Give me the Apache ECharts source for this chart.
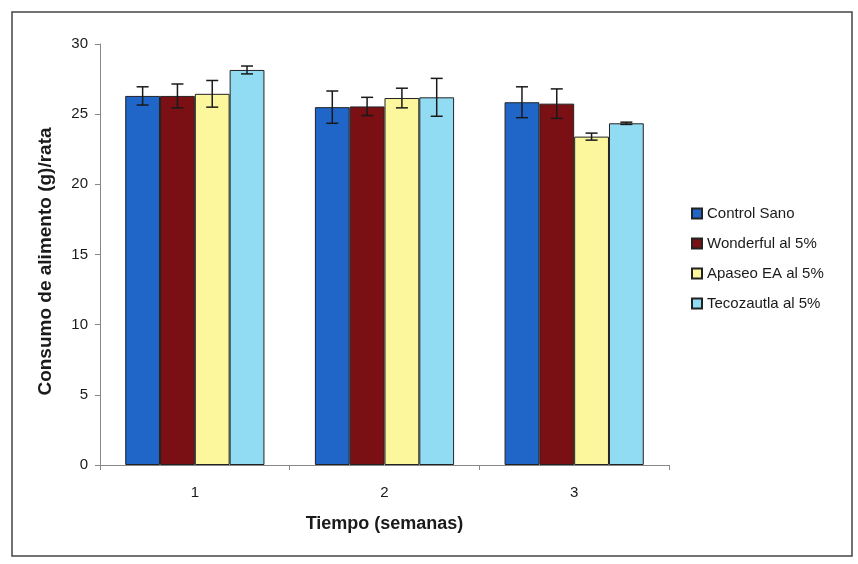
<!DOCTYPE html>
<html>
<head>
<meta charset="utf-8">
<script src="https://cdn.jsdelivr.net/npm/echarts@6/dist/echarts.min.js"></script>
<style>html,body{margin:0;padding:0;background:#fff}#c{width:858px;height:564px}</style>
</head>
<body>
<div id="c"></div>
<script>
var categories = ['1', '2', '3'];
var seriesNames = ['Control Sano', 'Wonderful al 5%', 'Apaseo EA al 5%', 'Tecozautla al 5%'];
var controlSano = [26.3, 25.5, 25.85];
var wonderful = [26.3, 25.55, 25.75];
var apaseo = [26.45, 26.15, 23.4];
var tecozautla = [28.15, 26.2, 24.35];
var errControlSano = [0.65, 1.15, 1.1];
var errWonderful = [0.85, 0.65, 1.05];
var errApaseo = [0.95, 0.7, 0.25];
var errTecozautla = [0.28, 1.35, 0.08];
var yTicks = [0, 5, 10, 15, 20, 25, 30];

var colors = ['#1f66c8', '#7a1014', '#fcf79c', '#92dcf3'];
var values = [controlSano, wonderful, apaseo, tecozautla];
var errors = [errControlSano, errWonderful, errApaseo, errTecozautla];
var gapRatio = 0.266;

var chart = echarts.init(document.getElementById('c'));
var series = [];
values.forEach(function (v, i) {
  series.push({
    name: seriesNames[i], type: 'bar', data: v,
    barGap: '0%', barCategoryGap: (gapRatio * 100) + '%',
    itemStyle: { color: colors[i], borderColor: '#222', borderWidth: 1 },
    emphasis: { disabled: true }
  });
});
values.forEach(function (v, i) {
  series.push({
    type: 'custom', silent: true, z: 5,
    data: v.map(function (val, k) { return [k, val - errors[i][k], val + errors[i][k]]; }),
    renderItem: function (params, api) {
      var k = api.value(0);
      var lo = api.coord([k, api.value(1)]);
      var hi = api.coord([k, api.value(2)]);
      var band = api.size([1, 0])[0];
      var bw = band * (1 - gapRatio) / 4;
      var x = lo[0] + (i - 1.5) * bw;
      var cap = 6;
      var st = { stroke: '#1a1a1a', lineWidth: 1.5 };
      return { type: 'group', children: [
        { type: 'line', shape: { x1: x, y1: lo[1], x2: x, y2: hi[1] }, style: st },
        { type: 'line', shape: { x1: x - cap, y1: lo[1], x2: x + cap, y2: lo[1] }, style: st },
        { type: 'line', shape: { x1: x - cap, y1: hi[1], x2: x + cap, y2: hi[1] }, style: st }
      ]};
    }
  });
});

chart.setOption({
  animation: false,
  backgroundColor: '#fff',
  textStyle: { fontFamily: 'Liberation Sans, Arial, sans-serif' },
  graphic: [{ type: 'rect', shape: { x: 12, y: 12, width: 840, height: 544 },
    style: { fill: 'none', stroke: '#444', lineWidth: 1.5 }, silent: true }],
  grid: { left: 100, right: 189, top: 44, bottom: 99 },
  legend: {
    orient: 'vertical', left: 686, top: 201, itemWidth: 10, itemHeight: 10, itemGap: 15,
    icon: 'rect', data: seriesNames,
    textStyle: { fontSize: 15, color: '#1a1a1a', fontFamily: 'Liberation Sans, Arial, sans-serif' }
  },
  xAxis: {
    type: 'category', data: categories,
    name: 'Tiempo (semanas)', nameLocation: 'middle', nameGap: 50,
    nameTextStyle: { fontSize: 18, fontWeight: 'bold', color: '#1a1a1a' },
    axisLine: { lineStyle: { color: '#888' } },
    axisTick: { show: true, length: 5, lineStyle: { color: '#888' } },
    axisLabel: { fontSize: 15, color: '#1a1a1a', margin: 20 }
  },
  yAxis: {
    type: 'value', min: yTicks[0], max: yTicks[yTicks.length - 1], interval: 5,
    name: 'Consumo de alimento (g)/rata', nameLocation: 'middle', nameGap: 45,
    nameTextStyle: { fontSize: 19, fontWeight: 'bold', color: '#1a1a1a', padding: [0, 14, 0, 0] },
    axisLine: { show: true, lineStyle: { color: '#888' } },
    axisTick: { show: true, length: 5, lineStyle: { color: '#888' } },
    axisLabel: { fontSize: 15, color: '#1a1a1a', margin: 12 },
    splitLine: { show: false }
  },
  series: series
});
</script>
</body>
</html>
